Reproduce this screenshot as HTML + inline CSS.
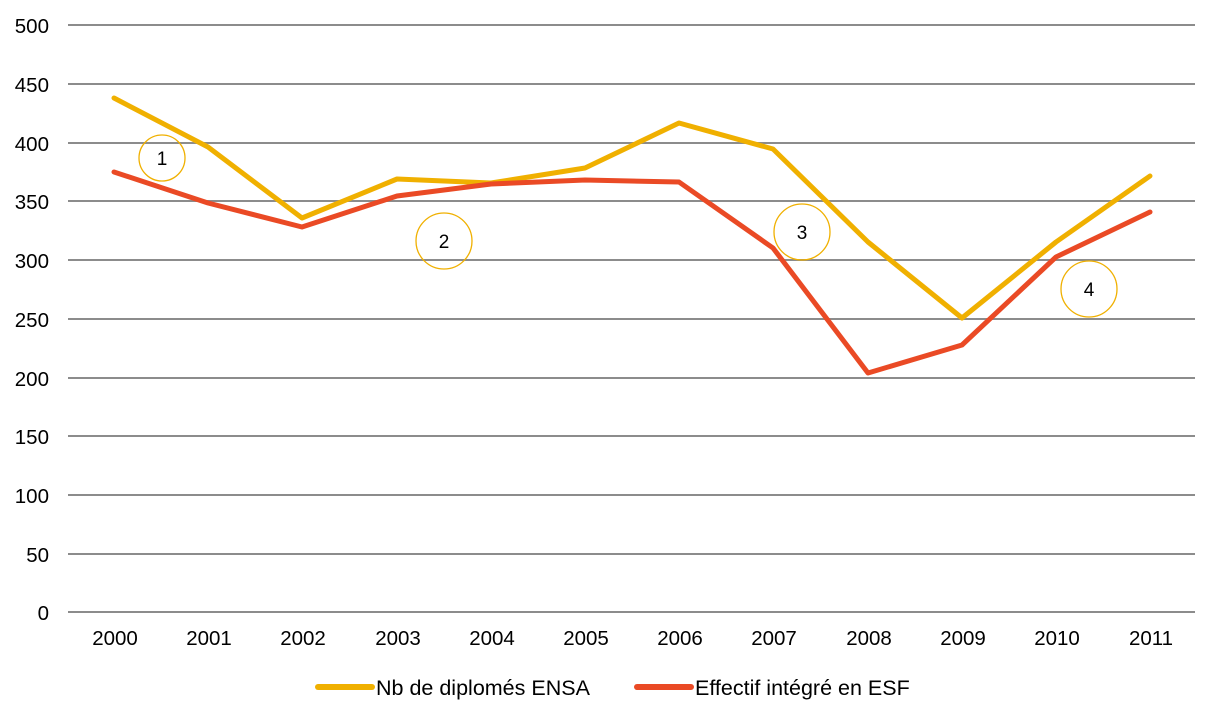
<!DOCTYPE html>
<html><head><style>body{margin:0;background:#fff}</style></head><body>
<svg width="1231" height="712" xmlns="http://www.w3.org/2000/svg" font-family="Liberation Sans, sans-serif" font-size="20.5">
<g stroke="#8c8c8c" stroke-width="2">
<line x1="68" x2="1195" y1="25" y2="25"/><line x1="68" x2="1195" y1="84" y2="84"/><line x1="68" x2="1195" y1="143" y2="143"/><line x1="68" x2="1195" y1="201" y2="201"/><line x1="68" x2="1195" y1="260" y2="260"/><line x1="68" x2="1195" y1="319" y2="319"/><line x1="68" x2="1195" y1="378" y2="378"/><line x1="68" x2="1195" y1="436" y2="436"/><line x1="68" x2="1195" y1="495" y2="495"/><line x1="68" x2="1195" y1="554" y2="554"/><line x1="68" x2="1195" y1="612" y2="612"/>
</g>
<g text-anchor="end" fill="#000">
<text x="49" y="33">500</text><text x="49" y="92">450</text><text x="49" y="151">400</text><text x="49" y="209">350</text><text x="49" y="268">300</text><text x="49" y="327">250</text><text x="49" y="386">200</text><text x="49" y="444">150</text><text x="49" y="503">100</text><text x="49" y="562">50</text><text x="49" y="620">0</text>
</g>
<g text-anchor="middle">
<text x="115" y="645">2000</text><text x="209" y="645">2001</text><text x="303" y="645">2002</text><text x="398" y="645">2003</text><text x="492" y="645">2004</text><text x="586" y="645">2005</text><text x="680" y="645">2006</text><text x="774" y="645">2007</text><text x="869" y="645">2008</text><text x="963" y="645">2009</text><text x="1057" y="645">2010</text><text x="1151" y="645">2011</text>
</g>
<polyline fill="none" stroke="#f0b000" stroke-width="5" stroke-linejoin="round" stroke-linecap="round" points="114,98 208,147 302,218 397,179 491,183 585,168 679,123 773,149 868,242 962,318 1056,242 1150,176"/>
<polyline fill="none" stroke="#ea4a25" stroke-width="5" stroke-linejoin="round" stroke-linecap="round" points="114,172 208,203 302,227 397,196 491,184 585,180 679,182 773,248 868,373 962,345 1056,257 1150,212"/>
<g fill="none" stroke="#f0b000" stroke-width="1.3">
<circle cx="162" cy="158" r="23"/><circle cx="444" cy="241" r="28"/><circle cx="802" cy="232" r="28"/><circle cx="1089" cy="289" r="28"/>
</g>
<g text-anchor="middle" font-size="19"><text x="162" y="165">1</text><text x="444" y="248">2</text><text x="802" y="239">3</text><text x="1089" y="296">4</text></g>
<line x1="318" x2="372" y1="687" y2="687" stroke="#f0b000" stroke-width="6" stroke-linecap="round"/>
<text x="376" y="695" font-size="21.5">Nb de diplomés ENSA</text>
<line x1="637" x2="691" y1="687" y2="687" stroke="#ea4a25" stroke-width="6" stroke-linecap="round"/>
<text x="695" y="695" font-size="21.5">Effectif intégré en ESF</text>
</svg>
</body></html>
